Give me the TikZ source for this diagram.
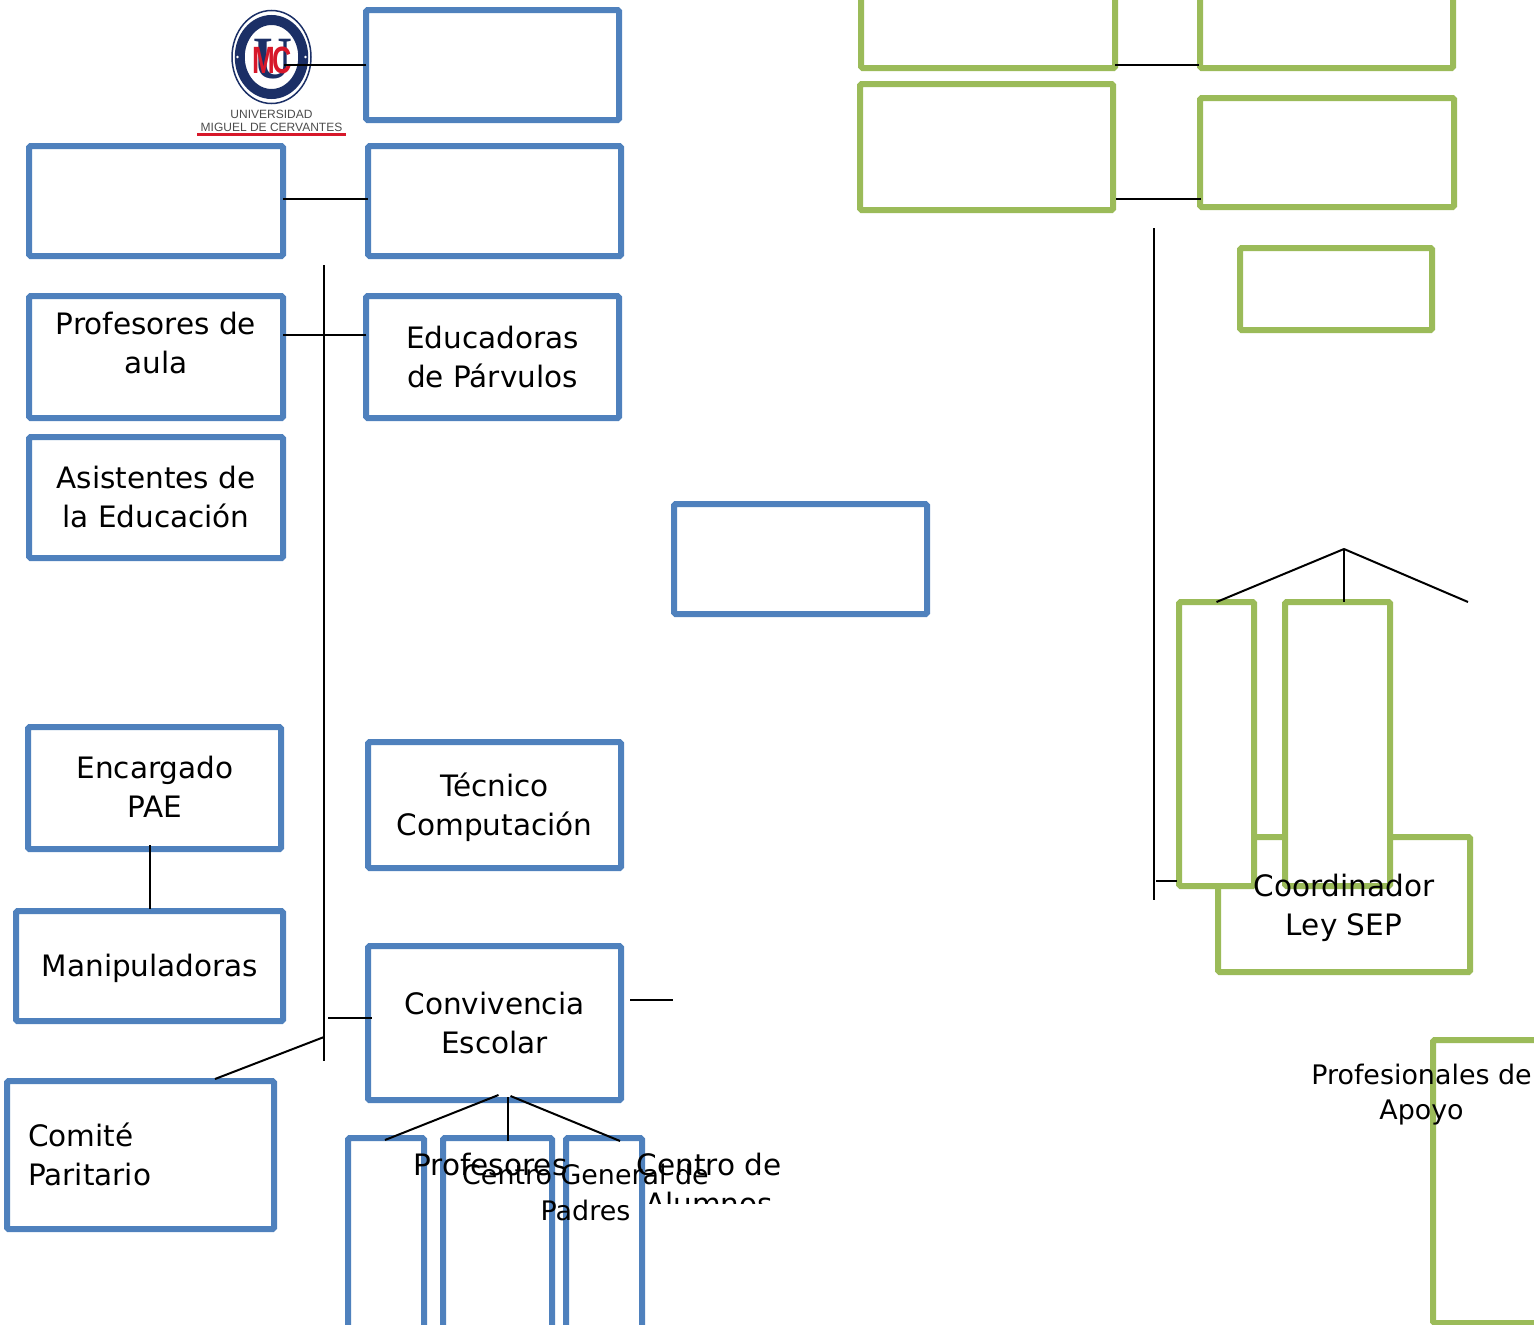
\documentclass[tikz,border=0pt]{standalone}
\usepackage{fontspec}
\setmainfont{DejaVu Sans}
\newfontfamily\logoserif{Liberation Serif}
\newfontfamily\logosans{Liberation Sans}
\usetikzlibrary{shapes.geometric, calc}
\definecolor{boxblue}{HTML}{4F81BD}
\definecolor{boxgreen}{HTML}{9BBB59}
\definecolor{logonavy}{HTML}{1B2F66}
\definecolor{logored}{HTML}{D7182A}

\begin{document}
\begin{tikzpicture}[
  x=1pt, y=-1pt,
  bluebox/.style={rectangle, rounded corners=1.5pt, draw=boxblue, line width=6pt, fill=white,
    outer sep=0pt, align=center, font=\fontsize{29.5}{39}\selectfont},
  greenbox/.style={rectangle, rounded corners=1.5pt, draw=boxgreen, line width=6pt, fill=white,
    outer sep=0pt},
  caption/.style={inner sep=0pt, align=center, font=\fontsize{29.5}{39}\selectfont},
  smallcaption/.style={inner sep=0pt, align=center, font=\fontsize{26.9}{35.5}\selectfont},
  logotext/.style={inner sep=0pt, text=black!70, font=\logosans\fontsize{12}{12}\selectfont},
  link/.style={draw=black, line width=2pt}
]
  \useasboundingbox (0,0) rectangle (1534,1325);
  \clip (0,0) rectangle (1534,1325);

  % logo
  \node[ellipse, draw=logonavy, line width=1.5pt, minimum width=79, minimum height=93, inner sep=0pt] (logo) at (271.5,57) {};
  \node[ellipse, draw=logonavy, fill=white, line width=10pt, minimum width=63.5, minimum height=74, inner sep=0pt] (ring) at (logo) {};
  \fill[white] ($(logo)+(-34,0)$) circle (1.4) ($(logo)+(34,0)$) circle (1.4);
  \node[inner sep=0pt, text=logonavy, font=\logoserif\bfseries\fontsize{60}{60}\selectfont] (logou) at (272.5,59) {\scalebox{0.9}[1]{U}};
  \node[inner sep=0pt, text=logored, font=\logosans\bfseries\fontsize{38}{38}\selectfont] (logom) at (263.5,60.5) {\scalebox{0.72}[1]{M}};
  \node[inner sep=0pt, text=logored, font=\logosans\bfseries\fontsize{38}{38}\selectfont] (logoc) at (282.5,60.5) {\scalebox{0.7}[1]{C}};
  \node[logotext] (logoname) at (271.5,114) {UNIVERSIDAD};
  \node[logotext] (logotown) at (271.5,127) {MIGUEL DE CERVANTES};
  \draw[logored, line width=2.5pt] (197,134.5) -- (346,134.5);

  % blue side
  \node[bluebox, minimum width=253, minimum height=110] (rector) at (492.5,65) {};
  \node[bluebox, minimum width=254, minimum height=110] (inspector) at (156,201) {};
  \node[bluebox, minimum width=253, minimum height=110] (utp) at (494.5,201) {};
  \node[bluebox, minimum width=254, minimum height=122] (aula) at (156,357) {};
  \node[bluebox, minimum width=253, minimum height=122] (parvulos) at (492.5,357) {Educadoras\\de Párvulos};
  \node[bluebox, minimum width=254, minimum height=121] (asistentes) at (156,497.5) {};
  \node[bluebox, minimum width=253, minimum height=110] (centre) at (800.5,559) {};
  \node[bluebox, minimum width=253, minimum height=122] (pae) at (154.5,788) {};
  \node[bluebox, minimum width=253, minimum height=126] (tecnico) at (494.5,805) {};
  \node[bluebox, minimum width=267, minimum height=110] (manip) at (149.5,966) {};
  \node[bluebox, minimum width=253, minimum height=154] (convivencia) at (494.5,1023) {Convivencia\\Escolar};
  \node[bluebox, minimum width=267, minimum height=148] (comite) at (140.5,1155) {};
  \node[bluebox, minimum width=76, minimum height=202] (tallone) at (386,1239) {};
  \node[bluebox, minimum width=109, minimum height=202] (talltwo) at (497.5,1239) {};
  \node[bluebox, minimum width=76, minimum height=202] (tallthree) at (604,1239) {};

  % green side
  \node[greenbox, minimum width=254, minimum height=78] (topleft) at (988,29) {};
  \node[greenbox, minimum width=253, minimum height=78] (topright) at (1326.5,29) {};
  \node[greenbox, minimum width=253, minimum height=126] (midleft) at (986.5,147) {};
  \node[greenbox, minimum width=254, minimum height=109] (midright) at (1327,152.5) {};
  \node[greenbox, minimum width=192, minimum height=82] (small) at (1336,289) {};
  \node[greenbox, minimum width=252, minimum height=135] (sep) at (1344,904.5) {};
  \node[greenbox, minimum width=75, minimum height=284] (greenone) at (1216.5,744) {};
  \node[greenbox, minimum width=105, minimum height=284] (greentwo) at (1337.5,744) {};
  \node[greenbox, minimum width=127, minimum height=283] (apoyo) at (1496.5,1181.5) {};

  % free ends of the connectors
  \coordinate (spinetop) at (324,265);
  \coordinate (spinebot) at (324,1061);
  \coordinate (spinejoin) at (324,1037);
  \coordinate (spineout) at (328,1018);
  \coordinate (convout) at (630,1000);
  \coordinate (centrein) at (673,1000);
  \coordinate (paetop) at (150,845);
  \coordinate (manipin) at (150,909);
  \coordinate (greentop) at (1154,228);
  \coordinate (greenbot) at (1154,900);
  \coordinate (greenstub) at (1156,881);
  \coordinate (apex) at (1344,549);
  \coordinate (apexr) at (1468,602);

  \draw[link] ([shift={(12pt,-8pt)}]logo.center) -- (rector.west);
  \draw[link] ([yshift=2pt]inspector.east) -- ([yshift=2pt]utp.west);
  \draw[link] ([yshift=22pt]aula.east) -- ([yshift=22pt]parvulos.west);
  \draw[link] (spinetop) -- (spinebot);
  \draw[link] (paetop) -- (manipin);
  \draw[link] (spineout) -- ++(44,0);
  \draw[link] (convout) -- (centrein);
  \draw[link] (comite.north east) ++(-59,-2) -- (spinejoin);
  \draw[link] ([xshift=-1pt,yshift=4pt]convivencia.south) ++(5,-1) -- ([xshift=-1pt,yshift=-2pt]tallone.north);
  \draw[link] ([xshift=13pt,yshift=3pt]convivencia.south) -- ([xshift=10pt,yshift=-3pt]talltwo.north);
  \draw[link] ([xshift=16pt,yshift=4pt]convivencia.south) -- ([xshift=16pt,yshift=-3pt]tallthree.north);
  \draw[link] ([yshift=3pt]topleft.south east) -- ([yshift=3pt,xshift=-1pt]topright.south west);
  \draw[link] ([xshift=3pt,yshift=11pt]midleft.south east) -- ([xshift=1pt,yshift=-46.5pt]midright.west);
  \draw[link] (greentop) -- (greenbot);
  \draw[link] (greenstub) -- ([xshift=-2pt,yshift=-137pt]greenone.west);
  \draw[link] (greenone.north) -- (apex);
  \draw[link] (apex) -- ([xshift=6.5pt]greentwo.north);
  \draw[link] (apex) -- (apexr);

  % texts above the boxes
  \node[caption] (aulatext) at (156,343) {Profesores de\\aula};
  \node[caption] (asistext) at (156,497) {Asistentes de\\la Educación};
  \node[caption] (paetext) at (155,787) {Encargado\\PAE};
  \node[caption] (tectext) at (494.5,807.5) {Técnico\\Computación};
  \node[caption] (maniptext) at (150,968) {Manipuladoras};
  \node[caption, align=left, anchor=west] (comitetext) at (28,1154) {Comité\\Paritario};
  \node[caption] (coordtext) at (1344,907.5) {Coordinador\\Ley SEP};
  \node[smallcaption] (apoyotext) at (1421.5,1094.5) {Profesionales de\\Apoyo};
  \node[caption] (proftext) at (490.5,1164) {Profesores};
  \node[smallcaption] (padrestext) at (585.5,1192.5) {Centro General de\\Padres};
  \begin{scope}
    \clip (630,1140) rectangle (800,1203);
    \node[caption] (alumnostext) at (709,1184) {Centro de\\Alumnos};
  \end{scope}
\end{tikzpicture}
\end{document}
